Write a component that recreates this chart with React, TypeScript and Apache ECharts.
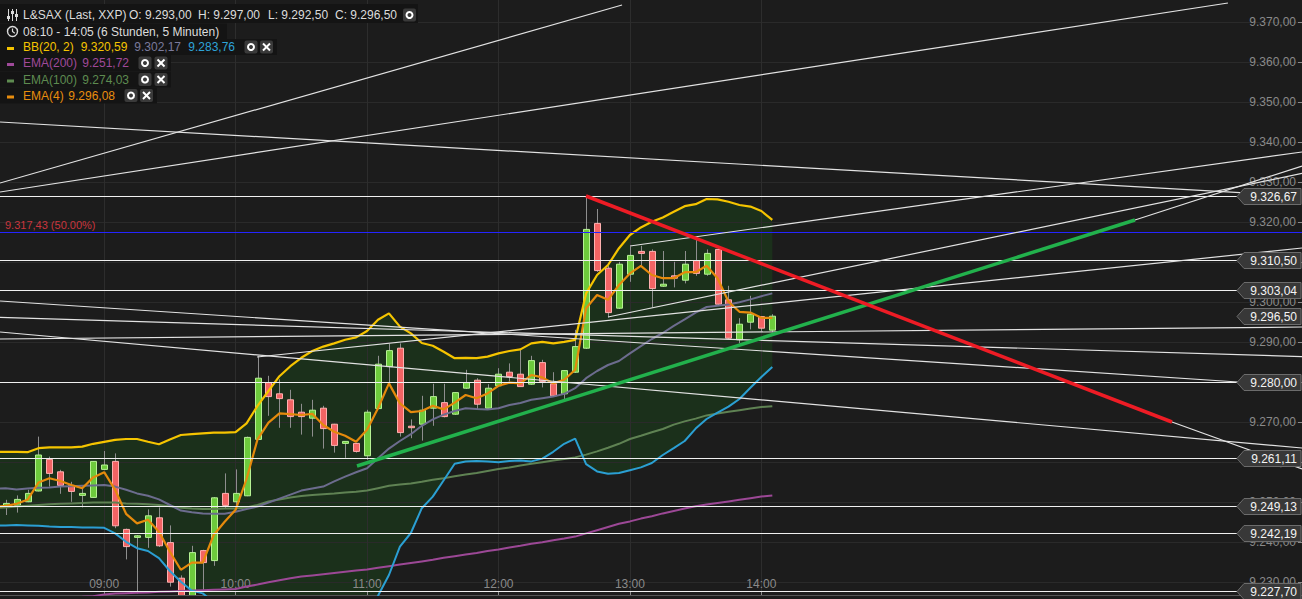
import React, { useEffect, useRef } from 'react';
import * as echarts from 'echarts';

const FONT = '"Liberation Sans", Arial, sans-serif';

const times = [
  '08:10', '08:15', '08:20', '08:25', '08:30', '08:35', '08:40', '08:45', '08:50', '08:55',
  '09:00', '09:05', '09:10', '09:15', '09:20', '09:25', '09:30', '09:35', '09:40', '09:45', '09:50', '09:55',
  '10:00', '10:05', '10:10', '10:15', '10:20', '10:25', '10:30', '10:35', '10:40', '10:45', '10:50', '10:55',
  '11:00', '11:05', '11:10', '11:15', '11:20', '11:25', '11:30', '11:35', '11:40', '11:45', '11:50', '11:55',
  '12:00', '12:05', '12:10', '12:15', '12:20', '12:25', '12:30', '12:35', '12:40', '12:45', '12:50', '12:55',
  '13:00', '13:05', '13:10', '13:15', '13:20', '13:25', '13:30', '13:35', '13:40', '13:45', '13:50', '13:55',
  '14:00', '14:05',
];

const opens = [
  9249.5, 9249.1, 9249.2, 9250.1, 9252.8, 9260.7, 9257.6, 9254.2, 9251.7, 9251.2,
  9258.2, 9260.2, 9243.2, 9241.2, 9241.2, 9246.1, 9239.9, 9231.0, 9226.5, 9237.9, 9235.4, 9252.2,
  9250.1, 9251.6, 9265.7, 9279.9, 9277.1, 9275.6, 9272.5, 9271.0, 9273.5, 9269.5, 9264.7, 9264.7,
  9261.6, 9273.4, 9283.9, 9288.5, 9269.0, 9269.5, 9273.5, 9274.9, 9272.0, 9278.5, 9280.5, 9273.5,
  9279.1, 9282.5, 9282.0, 9279.5, 9284.9, 9279.6, 9277.1, 9282.5, 9288.5, 9319.7, 9308.5, 9298.5,
  9307.0, 9312.7, 9312.7, 9304.0, 9306.6, 9305.5, 9310.4, 9307.0, 9313.2, 9300.6, 9290.6, 9295.0,
  9296.4, 9293.0,
];
const highs = [
  9250.5, 9250.6, 9251.7, 9253.1, 9266.4, 9261.4, 9258.1, 9255.1, 9253.9, 9260.3,
  9262.8, 9262.2, 9243.4, 9241.8, 9248.2, 9248.7, 9244.2, 9231.7, 9239.1, 9238.1, 9251.3, 9257.2,
  9258.2, 9266.4, 9286.6, 9281.6, 9280.7, 9278.1, 9274.6, 9275.6, 9274.1, 9269.6, 9265.3, 9264.8,
  9273.1, 9286.6, 9289.6, 9289.7, 9270.7, 9276.6, 9279.6, 9279.6, 9277.5, 9283.1, 9281.0, 9279.5,
  9283.5, 9284.7, 9288.1, 9286.6, 9285.6, 9282.5, 9283.0, 9293.1, 9326.4, 9323.3, 9309.1, 9310.1,
  9313.9, 9314.1, 9313.2, 9312.8, 9310.1, 9312.8, 9315.6, 9313.2, 9313.7, 9304.1, 9296.0, 9301.6,
  9296.5, 9297.0,
];
const lows = [
  9247.6, 9246.8, 9247.4, 9250.0, 9252.7, 9253.9, 9252.1, 9250.1, 9248.7, 9251.1,
  9258.0, 9243.5, 9235.7, 9227.2, 9238.6, 9238.8, 9228.9, 9226.3, 9226.3, 9228.1, 9234.1, 9248.5,
  9249.3, 9251.5, 9265.6, 9271.6, 9268.6, 9268.6, 9266.9, 9266.4, 9263.4, 9262.4, 9261.1, 9262.4,
  9260.6, 9273.3, 9279.7, 9266.4, 9266.0, 9265.4, 9269.1, 9271.2, 9271.8, 9278.3, 9273.1, 9273.4,
  9279.0, 9280.2, 9278.8, 9279.3, 9278.7, 9276.3, 9275.8, 9282.3, 9288.3, 9307.6, 9296.2, 9298.3,
  9305.1, 9309.1, 9298.7, 9303.8, 9303.7, 9304.7, 9306.6, 9306.6, 9299.3, 9290.8, 9289.7, 9293.2,
  9292.7, 9292.5,
];
const closes = [
  9248.6, 9249.7, 9250.7, 9252.2, 9261.8, 9257.2, 9254.2, 9252.7, 9252.2, 9260.2,
  9259.3, 9244.1, 9238.9, 9241.6, 9246.6, 9239.1, 9230.0, 9226.5, 9237.4, 9234.9, 9251.1, 9249.2,
  9252.2, 9266.2, 9281.0, 9276.4, 9275.9, 9271.4, 9271.4, 9273.0, 9268.4, 9264.2, 9265.2, 9262.7,
  9272.5, 9284.5, 9287.9, 9267.4, 9268.9, 9273.0, 9276.4, 9271.4, 9277.4, 9279.9, 9274.5, 9278.5,
  9282.0, 9281.4, 9278.9, 9285.4, 9280.2, 9276.6, 9282.9, 9288.9, 9318.2, 9307.9, 9297.4, 9309.5,
  9311.7, 9312.2, 9303.4, 9304.5, 9306.0, 9309.5, 9307.2, 9312.2, 9299.5, 9291.0, 9294.5, 9297.0,
  9293.5, 9296.5,
];

const bbUpper = [
  9262.6, 9262.6, 9262.6, 9262.5, 9263.5, 9263.7, 9263.7, 9263.7, 9263.9, 9264.6,
  9265.1, 9265.6, 9265.8, 9265.8, 9265.1, 9264.5, 9265.7, 9266.8, 9267.0, 9267.2, 9267.4, 9267.4,
  9267.5, 9269.7, 9274.1, 9277.8, 9281.5, 9284.0, 9286.1, 9287.8, 9288.9, 9289.7, 9290.6, 9291.2,
  9292.8, 9295.6, 9297.2, 9293.9, 9292.2, 9289.8, 9289.1, 9287.6, 9286.0, 9286.1, 9286.0, 9286.4,
  9287.2, 9287.8, 9288.2, 9289.7, 9290.1, 9289.7, 9290.1, 9290.6, 9302.2, 9306.8, 9309.3, 9313.5,
  9316.8, 9318.7, 9320.1, 9321.2, 9322.6, 9324.0, 9324.5, 9325.8, 9325.7, 9325.1, 9324.3, 9323.9,
  9322.8, 9320.6,
];
const bbMiddle = [
  9253.4, 9253.5, 9253.2, 9253.4, 9253.6, 9253.7, 9253.9, 9254.0, 9254.1, 9254.2,
  9254.3, 9253.9, 9253.1, 9252.2, 9251.6, 9250.7, 9249.3, 9247.9, 9247.5, 9247.2, 9247.1, 9247.1,
  9247.6, 9248.3, 9248.9, 9249.9, 9250.9, 9251.9, 9252.9, 9253.4, 9253.9, 9255.2, 9256.4, 9257.5,
  9258.5, 9261.0, 9263.4, 9265.3, 9267.0, 9269.1, 9270.7, 9271.9, 9272.8, 9273.5, 9273.3, 9273.2,
  9273.5, 9274.3, 9274.8, 9275.6, 9276.0, 9276.4, 9277.1, 9278.5, 9281.0, 9282.8, 9284.3, 9285.3,
  9287.2, 9289.0, 9290.8, 9292.3, 9294.1, 9295.7, 9297.4, 9298.8, 9299.1, 9299.4, 9300.0, 9300.7,
  9301.5, 9302.2,
];
const bbLower = [
  9244.1, 9244.2, 9244.3, 9244.2, 9244.1, 9243.9, 9243.8, 9243.8, 9243.7, 9243.7,
  9243.6, 9242.2, 9240.1, 9238.5, 9237.8, 9236.0, 9232.8, 9230.1, 9227.9, 9227.2, 9225.0, 9222.0,
  9220.0, 9217.0, 9212.0, 9208.0, 9205.0, 9203.0, 9202.0, 9202.0, 9203.0, 9205.0, 9208.0, 9212.0,
  9218.5, 9226.6, 9231.8, 9238.9, 9242.3, 9248.5, 9251.4, 9255.5, 9259.6, 9260.2, 9260.3, 9260.2,
  9260.0, 9260.3, 9260.4, 9260.2, 9260.9, 9262.6, 9264.6, 9265.9, 9259.5, 9257.7, 9257.1, 9257.3,
  9258.0, 9258.7, 9259.8, 9261.8, 9263.5, 9265.3, 9268.4, 9270.8, 9272.4, 9273.9, 9275.8, 9278.6,
  9281.3, 9283.8,
];
const ema200 = [
  9225.5, 9225.6, 9225.7, 9225.8, 9225.9, 9226.0, 9226.1, 9226.25, 9226.35, 9226.5,
  9226.95, 9227.15, 9227.25, 9227.35, 9227.45, 9227.6, 9227.7, 9227.8, 9227.9, 9228.0, 9228.1, 9228.2,
  9228.3, 9228.9, 9229.4, 9230.0, 9230.5, 9231.0, 9231.4, 9231.7, 9232.0, 9232.3, 9232.6, 9232.9,
  9233.2, 9233.6, 9234.0, 9234.4, 9234.8, 9235.2, 9235.6, 9236.1, 9236.5, 9236.9, 9237.3, 9237.8,
  9238.2, 9238.7, 9239.1, 9239.6, 9240.0, 9240.5, 9240.9, 9241.4, 9242.2, 9243.0, 9243.8, 9244.6,
  9245.2, 9245.9, 9246.5, 9247.2, 9247.8, 9248.4, 9249.0, 9249.4, 9249.8, 9250.2, 9250.6, 9251.0,
  9251.4, 9251.7,
];
const ema100 = [
  9248.5, 9248.7, 9248.9, 9249.1, 9249.3, 9249.5, 9249.6, 9249.7, 9249.8, 9249.9,
  9249.9, 9249.9, 9249.7, 9249.6, 9249.5, 9249.3, 9249.0, 9248.6, 9248.4, 9248.3, 9248.3, 9248.4,
  9248.4, 9248.7, 9249.3, 9250.2, 9250.7, 9251.2, 9251.55, 9251.8, 9252.0, 9252.15, 9252.4, 9252.6,
  9252.9, 9253.5, 9254.1, 9254.4, 9254.7, 9255.1, 9255.6, 9256.0, 9256.5, 9256.9, 9257.3, 9257.8,
  9258.3, 9258.7, 9259.2, 9259.6, 9260.0, 9260.4, 9260.8, 9261.2, 9261.9, 9262.7, 9263.6, 9264.6,
  9265.8, 9266.6, 9267.5, 9268.3, 9269.4, 9270.2, 9270.9, 9271.7, 9272.2, 9272.6, 9273.0, 9273.4,
  9273.8, 9274.0,
];
const ema4 = [
  9248.8, 9249.1, 9249.6, 9250.6, 9254.9, 9256.0, 9255.3, 9254.3, 9253.5, 9256.2,
  9257.5, 9253.1, 9247.1, 9244.7, 9245.6, 9242.6, 9237.6, 9233.1, 9234.9, 9234.9, 9241.8, 9245.1,
  9248.1, 9255.8, 9265.7, 9269.9, 9272.2, 9272.0, 9271.8, 9272.1, 9269.3, 9267.6, 9266.6, 9265.1,
  9268.1, 9273.5, 9279.7, 9274.7, 9272.5, 9272.8, 9274.1, 9273.2, 9274.9, 9276.8, 9276.0, 9277.2,
  9279.1, 9279.9, 9279.7, 9281.8, 9281.2, 9279.7, 9280.6, 9283.1, 9298.5, 9301.8, 9300.6, 9304.3,
  9307.2, 9309.1, 9306.8, 9306.0, 9306.0, 9307.5, 9307.5, 9309.1, 9306.0, 9300.1, 9297.6, 9297.4,
  9296.1, 9296.1,
];

const yTicks = [9230, 9240, 9250, 9260, 9270, 9280, 9290, 9300, 9310, 9320, 9330, 9340, 9350, 9360, 9370];
const hourLabels = ['09:00', '10:00', '11:00', '12:00', '13:00', '14:00'];

// horizontal price levels drawn on the chart (label value)
const levelValues = [9326.67, 9310.5, 9303.04, 9280.0, 9261.11, 9249.13, 9242.19, 9227.7];
const lastPrice = 9296.5;
const fibValue = 9317.43;
const fibText = '9.317,43 (50.00%)';

// trend-line drawings: [xStart, valueStart, xEnd, valueEnd] in candle-slot units
const whiteLines = [
  [0.489, 9329.8, 57.28, 9374.3],
  [0.489, 9327.55, 112.6, 9374.8],
  [0.489, 9345.05, 113.7, 9327.4],
  [58.01, 9314.05, 119.36, 9337.55],
  [56.0, 9296.3, 119.36, 9332.2],
  [23.95, 9286.3, 119.36, 9313.55],
  [0.489, 9290.8, 119.36, 9293.8],
  [0.489, 9296.2, 119.36, 9286.4],
  [0.489, 9300.3, 113.52, 9280.05],
  [0.489, 9292.55, 119.36, 9263.55],
  [104.11, 9320.55, 119.36, 9334.05],
  [107.49, 9270.05, 119.36, 9258.3],
];
const greenTrend = [33.08, 9259.05, 104.11, 9320.55];
const redTrend = [53.99, 9326.55, 107.49, 9270.05];

const X_MIN = 0.489;
const X_MAX = 119.36;
const Y_MIN = 9226.8;
const Y_MAX = 9375.55;
const LEVEL_START = 0.45;
const LEVEL_FULL_END = 119.6;
const LABEL_X = 113.43;

const fmt = (v: number) => {
  const s = v.toFixed(2);
  const [a, b] = s.split('.');
  return a.replace(/\B(?=(\d{3})+(?!\d))/g, '.') + ',' + b;
};

function settingsIcon(cx: number, cy: number) {
  return [
    { type: 'rect', shape: { x: cx - 6.5, y: cy - 6.5, width: 13, height: 13, r: 2 }, style: { fill: '#3a3a3a' } },
    { type: 'circle', shape: { cx, cy, r: 3 }, style: { fill: 'none', stroke: '#ffffff', lineWidth: 2 } },
  ];
}
function closeIcon(cx: number, cy: number) {
  return [
    { type: 'rect', shape: { x: cx - 6.5, y: cy - 6.5, width: 13, height: 13, r: 2 }, style: { fill: '#3a3a3a' } },
    { type: 'line', shape: { x1: cx - 3.5, y1: cy - 3.5, x2: cx + 3.5, y2: cy + 3.5 }, style: { stroke: '#ffffff', lineWidth: 2 } },
    { type: 'line', shape: { x1: cx + 3.5, y1: cy - 3.5, x2: cx - 3.5, y2: cy + 3.5 }, style: { stroke: '#ffffff', lineWidth: 2 } },
  ];
}
function txt(x: number, y: number, text: string, fill: string) {
  return { type: 'text', x, y, style: { text, fill, font: '12px ' + FONT, align: 'left', verticalAlign: 'middle' } };
}

function buildLegend() {
  const els: any[] = [];
  const rows = [
    { y: 15, w: 418 },
    { y: 31.5, w: 227 },
    { y: 47, w: 277 },
    { y: 63, w: 171 },
    { y: 79.5, w: 171 },
    { y: 95.5, w: 157 },
  ];
  rows.forEach((r, i) => {
    els.push({ type: 'rect', shape: { x: 0, y: i === 0 ? 4 : r.y - 8, width: r.w, height: i === 0 ? r.y + 8 - 4 : 16 }, style: { fill: '#141414' } });
  });
  const W = '#dcdcdc';
  [8.5, 12.5, 16.5].forEach((x, k) => {
    els.push({ type: 'line', shape: { x1: x, y1: 9, x2: x, y2: 21 }, style: { stroke: W, lineWidth: 1 } });
    const ky = [16, 11, 14][k];
    els.push({ type: 'rect', shape: { x: x - 1.5, y: ky, width: 3, height: 3 }, style: { fill: W } });
  });
  els.push(txt(23, 15, 'L&SAX (Last, XXP)', W));
  els.push(txt(129, 15, 'O: 9.293,00', W));
  els.push(txt(198, 15, 'H: 9.297,00', W));
  els.push(txt(268, 15, 'L: 9.292,50', W));
  els.push(txt(335, 15, 'C: 9.296,50', W));
  els.push(...settingsIcon(409.5, 15));
  els.push({ type: 'circle', shape: { cx: 12.5, cy: 31.5, r: 5 }, style: { fill: 'none', stroke: W, lineWidth: 1.4 } });
  els.push({ type: 'polyline', shape: { points: [[12.5, 28.5], [12.5, 31.5], [14.8, 33.2]] }, style: { fill: 'none', stroke: W, lineWidth: 1.2 } });
  els.push(txt(23, 31.5, '08:10 - 14:05 (6 Stunden, 5 Minuten)', W));
  const dash = (y: number, c: string) => ({ type: 'rect', shape: { x: 7, y: y, width: 7, height: 3 }, style: { fill: c } });
  els.push(dash(47, '#f5c400'));
  els.push(txt(23, 47, 'BB(20, 2)', '#f5c400'));
  els.push(txt(80.7, 47, '9.320,59', '#f5c400'));
  els.push(txt(134.3, 47, '9.302,17', '#7a7a9c'));
  els.push(txt(188.3, 47, '9.283,76', '#2ea3d8'));
  els.push(...settingsIcon(251, 47));
  els.push(...closeIcon(266.5, 47));
  els.push(dash(63, '#a04a9a'));
  els.push(txt(23, 63, 'EMA(200)', '#a04a9a'));
  els.push(txt(82.3, 63, '9.251,72', '#a04a9a'));
  els.push(...settingsIcon(145, 63));
  els.push(...closeIcon(161, 63));
  els.push(dash(79.5, '#5e8b50'));
  els.push(txt(23, 79.5, 'EMA(100)', '#5e8b50'));
  els.push(txt(82.3, 79.5, '9.274,03', '#5e8b50'));
  els.push(...settingsIcon(145, 79.5));
  els.push(...closeIcon(161, 79.5));
  els.push(dash(95.5, '#e88d0e'));
  els.push(txt(23, 95.5, 'EMA(4)', '#e88d0e'));
  els.push(txt(68.3, 95.5, '9.296,08', '#e88d0e'));
  els.push(...settingsIcon(131, 95.5));
  els.push(...closeIcon(146.5, 95.5));
  return els.map((e) => ({ ...e, z: 100 }));
}

function lineSeries(data: number[][], color: string, width: number, z: number) {
  return {
    type: 'line',
    data,
    showSymbol: false,
    symbol: 'none',
    silent: true,
    z,
    lineStyle: { color, width },
    clip: true,
  };
}

// crisp horizontal lines (levels) drawn through the axis scales
function hLineSeries(values: number[], xEnd: number, color: string, width: number, z: number) {
  return {
    type: 'custom',
    z,
    silent: true,
    clip: true,
    data: values.map((v) => [LEVEL_START, v, xEnd]),
    encode: { x: [0, 2], y: 1 },
    renderItem: (params: any, api: any) => {
      const p0 = api.coord([api.value(0), api.value(1)]);
      const p1 = api.coord([api.value(2), api.value(1)]);
      const y = Math.round(p0[1]) + (width % 2 === 1 ? 0.5 : 0);
      return { type: 'line', shape: { x1: p0[0], y1: y, x2: p1[0], y2: y }, style: { stroke: color, lineWidth: width } };
    },
  };
}

function buildOption() {
  const idx = times.map((_, i) => i);
  const hourIdx = hourLabels.map((h) => times.indexOf(h));
  const ser = (arr: number[]) => arr.map((v, i) => [i, v]);

  const series: any[] = [];
  series.push({
    type: 'custom',
    z: -1,
    silent: true,
    clip: true,
    data: idx.map((i) => [i, bbUpper[i], bbLower[i]]),
    encode: { x: 0, y: [1, 2] },
    renderItem: (params: any, api: any) => {
      if (params.dataIndex !== 0) return null;
      const pts: number[][] = [];
      for (let i = 0; i < times.length; i++) pts.push(api.coord([i, bbUpper[i]]));
      for (let i = times.length - 1; i >= 0; i--) pts.push(api.coord([i, bbLower[i]]));
      return { type: 'polygon', shape: { points: pts }, style: { fill: '#1b301b' } };
    },
  });
  series.push({
    type: 'custom',
    z: 3,
    silent: true,
    clip: true,
    data: idx.map((i) => [i, opens[i], closes[i], lows[i], highs[i]]),
    encode: { x: 0, y: [1, 2, 3, 4] },
    renderItem: (params: any, api: any) => {
      const x = api.value(0);
      const o = api.value(1);
      const c = api.value(2);
      const l = api.value(3);
      const h = api.value(4);
      const pO = api.coord([x, o]);
      const pC = api.coord([x, c]);
      const pL = api.coord([x, l]);
      const pH = api.coord([x, h]);
      const up = c >= o;
      const cx = Math.round(pO[0]);
      const top = Math.min(pO[1], pC[1]);
      const bot = Math.max(pO[1], pC[1]);
      return {
        type: 'group',
        children: [
          { type: 'line', shape: { x1: cx + 0.5, y1: pH[1], x2: cx + 0.5, y2: pL[1] }, style: { stroke: '#8e8e8e', lineWidth: 1 } },
          {
            type: 'rect',
            shape: { x: cx - 2.5, y: top, width: 6, height: Math.max(bot - top, 1.5) },
            style: { fill: up ? '#6dca3c' : '#f26464', stroke: up ? '#b6f294' : '#ffb0b0', lineWidth: 1 },
          },
        ],
      };
    },
  });
  series.push(lineSeries(ser(ema200), '#9c4896', 2, 4));
  series.push(lineSeries(ser(ema100), '#5f8253', 2, 4));
  series.push(lineSeries(ser(bbLower), '#2b9fd3', 2, 4));
  series.push(lineSeries(ser(bbMiddle), '#6c6c8e', 2, 4));
  series.push(lineSeries(ser(bbUpper), '#f5c400', 2.2, 4));
  series.push(lineSeries(ser(ema4), '#e58a0c', 2.2, 4));
  whiteLines.forEach((d) => series.push(lineSeries([[d[0], d[1]], [d[2], d[3]]], '#e2e2e2', 1.2, 5)));
  series.push(hLineSeries(levelValues, LABEL_X, '#f0f0f0', 1, 5));
  series.push(hLineSeries([fibValue], LEVEL_FULL_END, '#2424ff', 1, 5));
  series.push(lineSeries([[greenTrend[0], greenTrend[1]], [greenTrend[2], greenTrend[3]]], '#22b14c', 3.5, 6));
  series.push(lineSeries([[redTrend[0], redTrend[1]], [redTrend[2], redTrend[3]]], '#ee1c25', 3.5, 6));
  series.push({
    type: 'custom',
    z: 7,
    silent: true,
    data: [[LEVEL_START, fibValue]],
    encode: { x: 0, y: 1 },
    renderItem: (params: any, api: any) => {
      const p = api.coord([api.value(0), api.value(1)]);
      return { type: 'text', x: 5, y: p[1] - 7, style: { text: fibText, fill: '#c8353d', font: '11px ' + FONT, align: 'left', verticalAlign: 'middle' } };
    },
  });
  series.push({
    type: 'custom',
    z: 10,
    silent: true,
    data: [...levelValues, lastPrice].map((v) => [LABEL_X, v]),
    encode: { x: 0, y: 1 },
    renderItem: (params: any, api: any) => {
      const v = api.value(1);
      const p = api.coord([api.value(0), v]);
      const x0 = Math.round(p[0]);
      const y = Math.round(p[1]) + 0.5;
      return {
        type: 'group',
        children: [
          {
            type: 'polygon',
            shape: { points: [[x0, y], [x0 + 7, y - 8], [x0 + 64, y - 8], [x0 + 64, y + 8], [x0 + 7, y + 8]] },
            style: { fill: '#383838', stroke: '#6c6c6c', lineWidth: 1 },
          },
          { type: 'text', x: x0 + 60, y, style: { text: fmt(v), fill: '#f4f4f4', font: '12px ' + FONT, align: 'right', verticalAlign: 'middle' } },
        ],
      };
    },
  });

  return {
    animation: false,
    backgroundColor: '#1c1c1c',
    grid: { left: 0, right: 0, top: 0, bottom: 4, containLabel: false },
    xAxis: {
      type: 'value',
      min: X_MIN,
      max: X_MAX,
      position: 'bottom',
      axisLine: { show: true, lineStyle: { color: '#555555', width: 1 } },
      axisTick: { show: true, inside: true, length: 4, customValues: hourIdx, lineStyle: { color: '#8a8a8a' } },
      axisLabel: {
        inside: true,
        customValues: hourIdx,
        margin: 5,
        color: '#8a8a8a',
        fontSize: 12,
        fontFamily: FONT,
        formatter: (v: number) => times[Math.round(v)] || '',
      },
      splitLine: { show: true, lineStyle: { color: '#2d2d2d', width: 1 } },
    },
    yAxis: {
      type: 'value',
      position: 'right',
      min: Y_MIN,
      max: Y_MAX,
      axisLine: { show: false },
      axisTick: { show: true, inside: true, length: 4, customValues: yTicks, lineStyle: { color: '#8a8a8a' } },
      axisLabel: {
        inside: true,
        customValues: yTicks,
        margin: 6,
        color: '#8a8a8a',
        fontSize: 12,
        fontFamily: FONT,
        formatter: (v: number) => fmt(v),
      },
      splitLine: { show: true, lineStyle: { color: '#2a2a2a', width: 1 } },
    },
    graphic: { elements: buildLegend() },
    series,
  };
}

export default function App() {
  const ref = useRef<HTMLDivElement>(null);
  useEffect(() => {
    if (!ref.current) return;
    const chart = echarts.init(ref.current, null, { renderer: 'svg' });
    chart.setOption(buildOption() as any);
    return () => chart.dispose();
  }, []);
  return <div ref={ref} style={{ position: 'fixed', left: 0, top: 0, width: 1302, height: 599 }} />;
}
